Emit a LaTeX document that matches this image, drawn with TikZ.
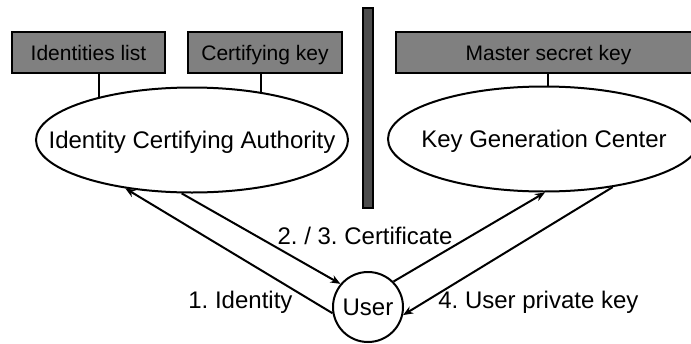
\documentclass[tikz,border=0pt]{standalone}
\usepackage{fontspec}
\setmainfont{Liberation Sans}
\usetikzlibrary{arrows.meta, shapes.geometric}
\frenchspacing

\begin{document}
\begin{tikzpicture}[
    x=0.5pt, y=-0.5pt,
    every node/.style={font=\fontsize{12}{14}\selectfont},
    key_box/.style={rectangle, draw, line width=1pt, fill=gray, minimum height=20.5pt,
        text depth=0pt, font=\fontsize{10.5}{12}\selectfont},
    authority/.style={ellipse, draw, line width=1pt, minimum width=156pt, minimum height=52.5pt,
        inner sep=0pt, text depth=0pt},
    party/.style={circle, draw, line width=1pt, minimum size=35pt, inner sep=0pt},
    divider/.style={rectangle, draw, line width=0.8pt, fill=black!70, minimum width=5pt,
        minimum height=100pt, inner sep=0pt},
    lbl/.style={inner sep=0pt},
    stub/.style={line width=1pt},
    flow/.style={-{Stealth[length=5pt, width=4pt]}, line width=1pt}
]
\clip (0,0) rectangle (691,343);

% Nodos
\node[key_box, minimum width=76.5pt] (idl) at (88.5,52.5) {Identities list};
\node[key_box, minimum width=77pt] (ckey) at (265,52.5) {Certifying key};
\node[key_box, minimum width=152.5pt] (msk) at (548.5,52.5) {Master secret key};

\node[divider] (bar) at (368,108) {};

\node[authority] (ica) at (192,140) {\makebox[0pt]{Identity Certifying Authority}};
\node[authority] (kgc) at (544,139) {\makebox[0pt]{Key Generation Center}};

\node[party] (user) at (368,307) {User};

% Enlaces
\draw[stub] (ica.155) -- (ica.155 |- idl.south);
\draw[stub] (ica.35) -- (ica.35 |- ckey.south);
\draw[stub] (kgc.86) -- (kgc.86 |- msk.south);

\draw[flow] (user.190) -- (ica.216);
\draw[flow] (ica.259) -- (user.140);
\draw[flow] (user.45) -- (kgc.271);
\draw[flow] (kgc.325) -- (user.-13);

% Etiquetas
\node[lbl, anchor=base] (certlbl) at (365,244) {2. / 3. Certificate};
\node[lbl, anchor=base west] (idlbl) at (188,308) {1. Identity};
\node[lbl, anchor=base west] (keylbl) at (438,308) {4. User private key};

\end{tikzpicture}
\end{document}
